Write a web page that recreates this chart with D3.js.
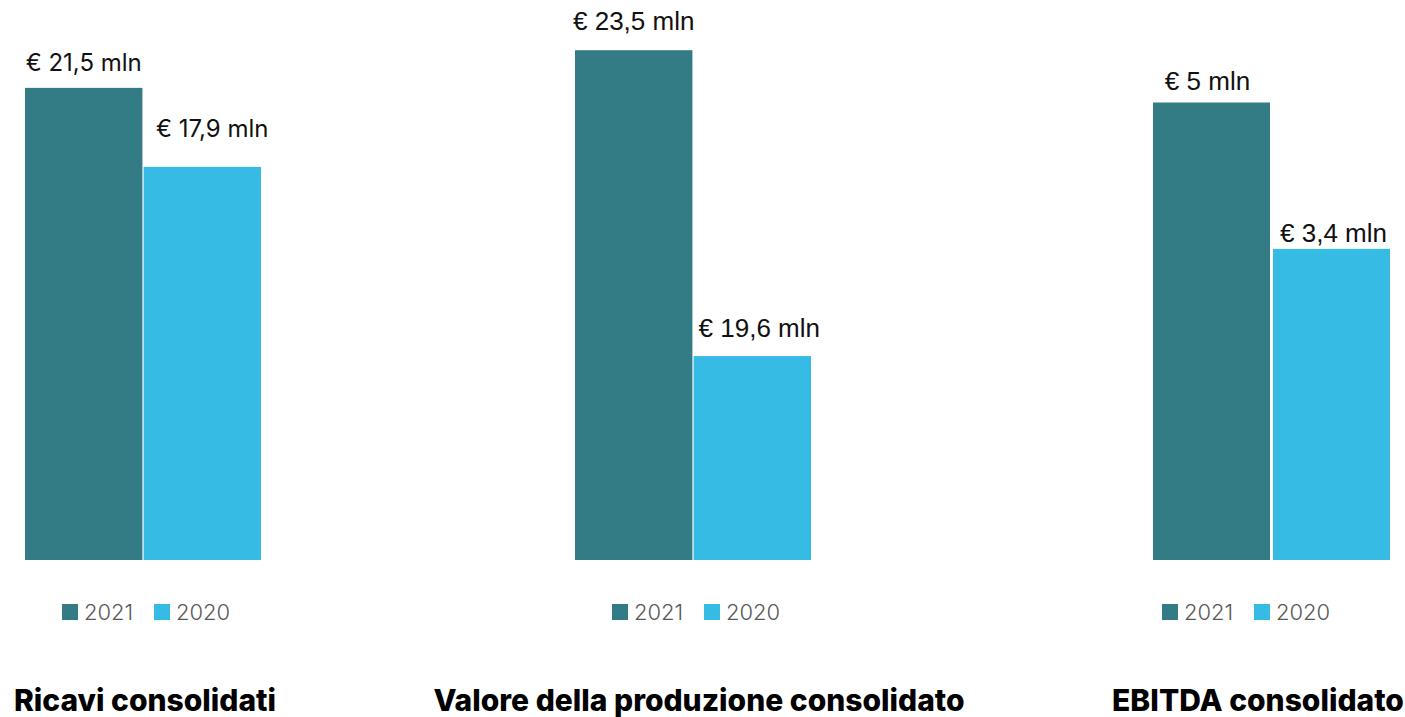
<!DOCTYPE html>
<html>
<head>
<meta charset="utf-8">
<script src="https://cdn.jsdelivr.net/npm/d3@7.9.0/dist/d3.min.js"></script>
<style>
  html, body { margin: 0; padding: 0; background: #fff; }
  svg { display: block; }
</style>
</head>
<body>
<div id="chart"></div>
<script>
// --- Data ---
const metrics = ["Ricavi consolidati", "Valore della produzione consolidato", "EBITDA consolidato"];
const years = ["2021", "2020"];
const values2021 = [21.5, 23.5, 5];
const values2020 = [17.9, 19.6, 3.4];
const axisMin = [0, 17, 0];
const axisMax = [25, 24, 6];

// --- Layout ---
const W = 1405;
const H = 717;
const COLORS = { "2021": "#337c86", "2020": "#36bbe5" };
const PLOT_TOP = 11;
const PLOT_BOTTOM = 560;

// per-panel placement (bar band range, legend and title centres, label nudges)
const panels = [
  { x0: 25, x1: 261, pad: 0.01, legendCx: 147, titleCx: 145, labelFont: "Inter, 'Open Sans', sans-serif", labelSize: 24, labelGap: [17, 30], labelDx: [0, 10] },
  { x0: 575, x1: 811, pad: 0.01, legendCx: 697, titleCx: 699, labelFont: "'Liberation Sans', Arial, sans-serif", labelSize: 26, labelGap: [20, 19], labelDx: [0, 7] },
  { x0: 1153, x1: 1390, pad: 0.025, legendCx: 1247, titleCx: 1258, labelFont: "'Liberation Sans', Arial, sans-serif", labelSize: 26, labelGap: [13, 7], labelDx: [-4, 2] }
];

const fmt = (v) => `€ ${String(v).replace(".", ",")} mln`;

const svg = d3.select("#chart").append("svg").attr("width", W).attr("height", H);

metrics.forEach((name, i) => {
  const p = panels[i];
  const data = years.map((yr, j) => ({
    year: yr,
    value: j === 0 ? values2021[i] : values2020[i]
  }));

  const x = d3.scaleBand().domain(years).range([p.x0, p.x1]).paddingInner(p.pad);
  const y = d3.scaleLinear().domain([axisMin[i], axisMax[i]]).range([PLOT_BOTTOM, PLOT_TOP]);

  const g = svg.append("g");

  g.selectAll("rect")
    .data(data)
    .join("rect")
    .attr("x", (d) => x(d.year))
    .attr("y", (d) => y(d.value))
    .attr("width", x.bandwidth())
    .attr("height", (d) => y(axisMin[i]) - y(d.value))
    .attr("fill", (d) => COLORS[d.year]);

  g.selectAll("text.value")
    .data(data)
    .join("text")
    .attr("class", "value")
    .attr("x", (d, j) => x(d.year) + x.bandwidth() / 2 + p.labelDx[j])
    .attr("y", (d, j) => y(d.value) - p.labelGap[j])
    .attr("text-anchor", "middle")
    .attr("font-family", p.labelFont)
    .attr("font-size", p.labelSize)
    .attr("fill", "#111")
    .text((d) => fmt(d.value));

  // legend
  const lg = g.append("g").attr("transform", `translate(${p.legendCx - 85},0)`);
  const item = lg.selectAll("g").data(years).join("g")
    .attr("transform", (d, j) => `translate(${j * 92},0)`);
  item.append("rect")
    .attr("x", 0).attr("y", 604)
    .attr("width", 16).attr("height", 16)
    .attr("fill", (d) => COLORS[d]);
  item.append("text")
    .attr("x", 22).attr("y", 620)
    .attr("font-family", "Inter, 'Open Sans', sans-serif")
    .attr("font-weight", 300)
    .attr("font-size", 22)
    .attr("fill", "#595959")
    .text((d) => d);

  // title
  g.append("text")
    .attr("x", p.titleCx)
    .attr("y", 711)
    .attr("text-anchor", "middle")
    .attr("font-family", "Inter, 'Open Sans', sans-serif")
    .attr("font-weight", 800)
    .attr("font-size", 30)
    .attr("fill", "#000")
    .text(name);
});
</script>
</body>
</html>
